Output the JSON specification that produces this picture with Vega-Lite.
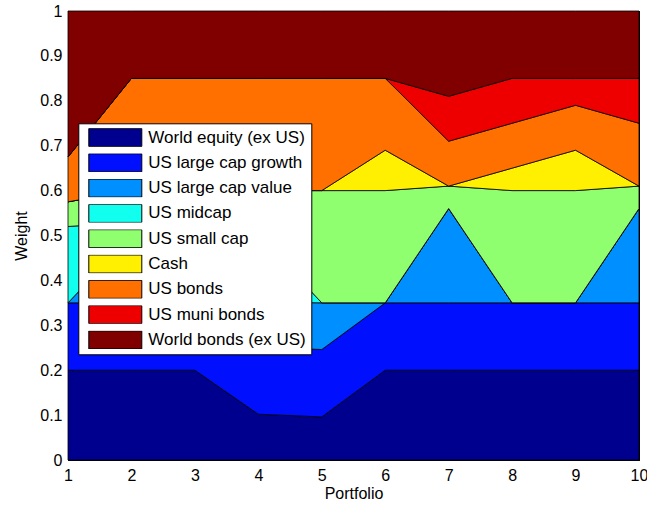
{
  "$schema": "https://vega.github.io/schema/vega-lite/v6.json",
  "width": 571,
  "height": 449,
  "autosize": "none",
  "padding": {"left": 68, "top": 11, "right": 8, "bottom": 45},
  "background": "white",
  "config": {
    "font": "Liberation Sans",
    "view": {"stroke": null},
    "axis": {"grid": false, "domainColor": "black", "tickColor": "black", "labelColor": "black", "titleColor": "black", "labelFontSize": 16, "titleFontSize": 16, "titleFontWeight": "normal", "zindex": 1}
  },
  "data": {
    "values": [
      {"portfolio": 1, "asset": "World equity (ex US)", "k": 1, "weight": 0.2},
      {"portfolio": 2, "asset": "World equity (ex US)", "k": 1, "weight": 0.2},
      {"portfolio": 3, "asset": "World equity (ex US)", "k": 1, "weight": 0.2},
      {"portfolio": 4, "asset": "World equity (ex US)", "k": 1, "weight": 0.102},
      {"portfolio": 5, "asset": "World equity (ex US)", "k": 1, "weight": 0.096},
      {"portfolio": 6, "asset": "World equity (ex US)", "k": 1, "weight": 0.2},
      {"portfolio": 7, "asset": "World equity (ex US)", "k": 1, "weight": 0.2},
      {"portfolio": 8, "asset": "World equity (ex US)", "k": 1, "weight": 0.2},
      {"portfolio": 9, "asset": "World equity (ex US)", "k": 1, "weight": 0.2},
      {"portfolio": 10, "asset": "World equity (ex US)", "k": 1, "weight": 0.2},
      {"portfolio": 1, "asset": "US large cap growth", "k": 2, "weight": 0.15},
      {"portfolio": 2, "asset": "US large cap growth", "k": 2, "weight": 0.15},
      {"portfolio": 3, "asset": "US large cap growth", "k": 2, "weight": 0.15},
      {"portfolio": 4, "asset": "US large cap growth", "k": 2, "weight": 0.15},
      {"portfolio": 5, "asset": "US large cap growth", "k": 2, "weight": 0.15},
      {"portfolio": 6, "asset": "US large cap growth", "k": 2, "weight": 0.15},
      {"portfolio": 7, "asset": "US large cap growth", "k": 2, "weight": 0.15},
      {"portfolio": 8, "asset": "US large cap growth", "k": 2, "weight": 0.15},
      {"portfolio": 9, "asset": "US large cap growth", "k": 2, "weight": 0.15},
      {"portfolio": 10, "asset": "US large cap growth", "k": 2, "weight": 0.15},
      {"portfolio": 1, "asset": "US large cap value", "k": 3, "weight": 0},
      {"portfolio": 2, "asset": "US large cap value", "k": 3, "weight": 0.15},
      {"portfolio": 3, "asset": "US large cap value", "k": 3, "weight": 0.12},
      {"portfolio": 4, "asset": "US large cap value", "k": 3, "weight": 0.1},
      {"portfolio": 5, "asset": "US large cap value", "k": 3, "weight": 0.104},
      {"portfolio": 6, "asset": "US large cap value", "k": 3, "weight": 0},
      {"portfolio": 7, "asset": "US large cap value", "k": 3, "weight": 0.21},
      {"portfolio": 8, "asset": "US large cap value", "k": 3, "weight": 0},
      {"portfolio": 9, "asset": "US large cap value", "k": 3, "weight": 0},
      {"portfolio": 10, "asset": "US large cap value", "k": 3, "weight": 0.21},
      {"portfolio": 1, "asset": "US midcap", "k": 4, "weight": 0.17},
      {"portfolio": 2, "asset": "US midcap", "k": 4, "weight": 0.03},
      {"portfolio": 3, "asset": "US midcap", "k": 4, "weight": 0.08},
      {"portfolio": 4, "asset": "US midcap", "k": 4, "weight": 0.15},
      {"portfolio": 5, "asset": "US midcap", "k": 4, "weight": 0},
      {"portfolio": 6, "asset": "US midcap", "k": 4, "weight": 0},
      {"portfolio": 7, "asset": "US midcap", "k": 4, "weight": 0},
      {"portfolio": 8, "asset": "US midcap", "k": 4, "weight": 0},
      {"portfolio": 9, "asset": "US midcap", "k": 4, "weight": 0},
      {"portfolio": 10, "asset": "US midcap", "k": 4, "weight": 0},
      {"portfolio": 1, "asset": "US small cap", "k": 5, "weight": 0.055},
      {"portfolio": 2, "asset": "US small cap", "k": 5, "weight": 0.07},
      {"portfolio": 3, "asset": "US small cap", "k": 5, "weight": 0.05},
      {"portfolio": 4, "asset": "US small cap", "k": 5, "weight": 0.098},
      {"portfolio": 5, "asset": "US small cap", "k": 5, "weight": 0.25},
      {"portfolio": 6, "asset": "US small cap", "k": 5, "weight": 0.25},
      {"portfolio": 7, "asset": "US small cap", "k": 5, "weight": 0.05},
      {"portfolio": 8, "asset": "US small cap", "k": 5, "weight": 0.25},
      {"portfolio": 9, "asset": "US small cap", "k": 5, "weight": 0.25},
      {"portfolio": 10, "asset": "US small cap", "k": 5, "weight": 0.05},
      {"portfolio": 1, "asset": "Cash", "k": 6, "weight": 0},
      {"portfolio": 2, "asset": "Cash", "k": 6, "weight": 0},
      {"portfolio": 3, "asset": "Cash", "k": 6, "weight": 0},
      {"portfolio": 4, "asset": "Cash", "k": 6, "weight": 0},
      {"portfolio": 5, "asset": "Cash", "k": 6, "weight": 0},
      {"portfolio": 6, "asset": "Cash", "k": 6, "weight": 0.09},
      {"portfolio": 7, "asset": "Cash", "k": 6, "weight": 0},
      {"portfolio": 8, "asset": "Cash", "k": 6, "weight": 0.05},
      {"portfolio": 9, "asset": "Cash", "k": 6, "weight": 0.09},
      {"portfolio": 10, "asset": "Cash", "k": 6, "weight": 0},
      {"portfolio": 1, "asset": "US bonds", "k": 7, "weight": 0.1},
      {"portfolio": 2, "asset": "US bonds", "k": 7, "weight": 0.25},
      {"portfolio": 3, "asset": "US bonds", "k": 7, "weight": 0.25},
      {"portfolio": 4, "asset": "US bonds", "k": 7, "weight": 0.25},
      {"portfolio": 5, "asset": "US bonds", "k": 7, "weight": 0.25},
      {"portfolio": 6, "asset": "US bonds", "k": 7, "weight": 0.16},
      {"portfolio": 7, "asset": "US bonds", "k": 7, "weight": 0.1},
      {"portfolio": 8, "asset": "US bonds", "k": 7, "weight": 0.1},
      {"portfolio": 9, "asset": "US bonds", "k": 7, "weight": 0.1},
      {"portfolio": 10, "asset": "US bonds", "k": 7, "weight": 0.14},
      {"portfolio": 1, "asset": "US muni bonds", "k": 8, "weight": 0},
      {"portfolio": 2, "asset": "US muni bonds", "k": 8, "weight": 0},
      {"portfolio": 3, "asset": "US muni bonds", "k": 8, "weight": 0},
      {"portfolio": 4, "asset": "US muni bonds", "k": 8, "weight": 0},
      {"portfolio": 5, "asset": "US muni bonds", "k": 8, "weight": 0},
      {"portfolio": 6, "asset": "US muni bonds", "k": 8, "weight": 0},
      {"portfolio": 7, "asset": "US muni bonds", "k": 8, "weight": 0.1},
      {"portfolio": 8, "asset": "US muni bonds", "k": 8, "weight": 0.1},
      {"portfolio": 9, "asset": "US muni bonds", "k": 8, "weight": 0.06},
      {"portfolio": 10, "asset": "US muni bonds", "k": 8, "weight": 0.1},
      {"portfolio": 1, "asset": "World bonds (ex US)", "k": 9, "weight": 0.325},
      {"portfolio": 2, "asset": "World bonds (ex US)", "k": 9, "weight": 0.15},
      {"portfolio": 3, "asset": "World bonds (ex US)", "k": 9, "weight": 0.15},
      {"portfolio": 4, "asset": "World bonds (ex US)", "k": 9, "weight": 0.15},
      {"portfolio": 5, "asset": "World bonds (ex US)", "k": 9, "weight": 0.15},
      {"portfolio": 6, "asset": "World bonds (ex US)", "k": 9, "weight": 0.15},
      {"portfolio": 7, "asset": "World bonds (ex US)", "k": 9, "weight": 0.19},
      {"portfolio": 8, "asset": "World bonds (ex US)", "k": 9, "weight": 0.15},
      {"portfolio": 9, "asset": "World bonds (ex US)", "k": 9, "weight": 0.15},
      {"portfolio": 10, "asset": "World bonds (ex US)", "k": 9, "weight": 0.15}
    ]
  },
  "resolve": {"axis": {"x": "independent", "y": "independent"}},
  "layer": [
    {
      "mark": {"type": "area", "stroke": "black", "strokeWidth": 0.8, "interpolate": "linear"},
      "encoding": {
        "x": {"field": "portfolio", "type": "quantitative", "scale": {"domain": [1, 10], "nice": false, "zero": false},
          "axis": {"title": "Portfolio", "values": [1,2,3,4,5,6,7,8,9,10], "format": "d", "tickSize": -5, "labelPadding": 12, "titleY": 38, "titleBaseline": "alphabetic", "labelFlush": false}},
        "y": {"field": "weight", "type": "quantitative", "stack": "zero", "scale": {"domain": [0, 1], "nice": false},
          "axis": {"title": "Weight", "values": [0,0.1,0.2,0.3,0.4,0.5,0.6,0.7,0.8,0.9,1], "format": "~g", "tickSize": -5, "labelPadding": 11, "titleX": -39, "titleBaseline": "bottom", "labelFlush": false}},
        "color": {"field": "asset", "type": "nominal",
          "scale": {"domain": ["World equity (ex US)", "US large cap growth", "US large cap value", "US midcap", "US small cap", "Cash", "US bonds", "US muni bonds", "World bonds (ex US)"],
                    "range": ["#00008f", "#0010ff", "#008fff", "#10ffef", "#8fff70", "#ffef00", "#ff7000", "#ef0000", "#800000"]},
          "legend": {"title": null, "orient": "none", "legendX": 10.3, "legendY": 112.3, "fillColor": "white", "strokeColor": "black", "padding": 5, "cornerRadius": 0,
            "symbolType": "M-1,-0.34H1V0.34H-1Z", "symbolSize": 2809, "symbolStrokeColor": "black", "symbolStrokeWidth": 1, "symbolOpacity": 1,
            "symbolOffset": 5, "labelOffset": 6, "clipHeight": 18.4, "rowPadding": 6.3, "labelFontSize": 17, "labelColor": "black", "labelLimit": 300, "zindex": 2}},
        "order": {"field": "k", "type": "quantitative", "sort": "ascending"}
      }
    },
    {
      "mark": {"type": "point", "opacity": 0},
      "encoding": {
        "x": {"field": "portfolio", "type": "quantitative", "scale": {"domain": [1, 10], "nice": false, "zero": false},
          "axis": {"orient": "top", "title": null, "labels": false, "values": [1,2,3,4,5,6,7,8,9,10], "tickSize": -5}},
        "y": {"field": "weight", "type": "quantitative", "scale": {"domain": [0, 1], "nice": false},
          "axis": {"orient": "right", "title": null, "labels": false, "values": [0,0.1,0.2,0.3,0.4,0.5,0.6,0.7,0.8,0.9,1], "tickSize": -5}}
      }
    }
  ]
}
